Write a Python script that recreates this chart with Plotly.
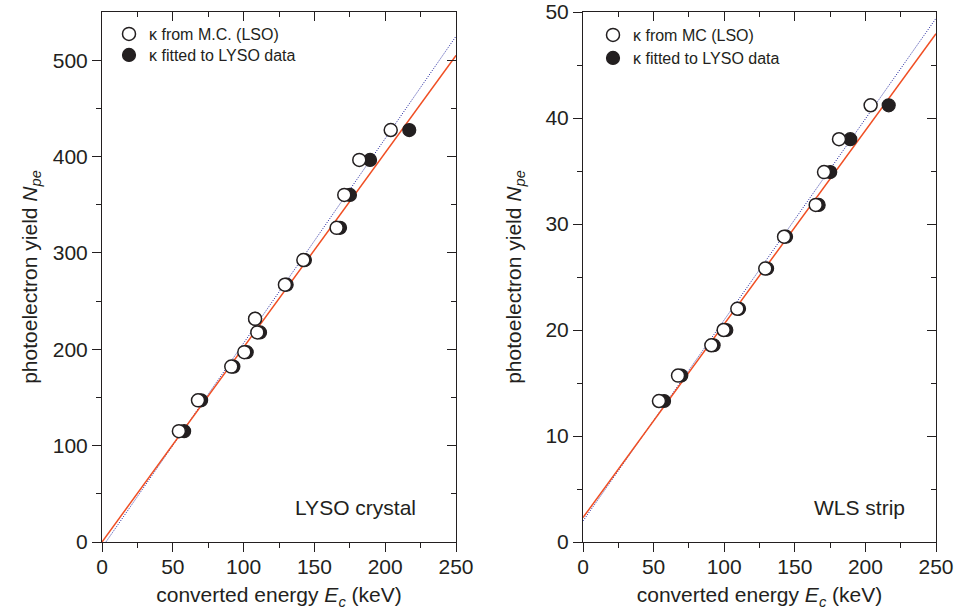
import plotly.graph_objects as go

# ---------------- data ----------------
left_mc_E = [54.3, 67.8, 91.3, 100.5, 108.1, 109.7, 129.2, 142.2, 165.7, 171.1, 181.7, 203.9]
left_fit_E = [58.0, 70.0, 92.8, 102.2, 108.1, 111.6, 130.4, 143.3, 168.1, 175.1, 189.3, 217.0]
left_N = [115, 147, 182, 197, 231.6, 217.5, 267, 292.6, 326, 360.2, 396.5, 427.5]

right_mc_E = [53.8, 67.3, 90.9, 99.6, 109.3, 129.1, 142.4, 164.8, 170.7, 181.3, 203.7]
right_fit_E = [57.4, 69.6, 92.5, 101.5, 110.5, 130.4, 143.8, 166.9, 175.1, 189.3, 216.5]
right_N = [13.3, 15.7, 18.56, 20.0, 22.0, 25.8, 28.8, 31.8, 34.9, 38.0, 41.2]

# linear fits: N = intercept + slope * E
left_mc_line = {"slope": 2.123, "intercept": -5.9}
left_fit_line = {"slope": 2.02, "intercept": 0.0}
right_mc_line = {"slope": 0.1897, "intercept": 1.98}
right_fit_line = {"slope": 0.1826, "intercept": 2.3}
line_E = [0, 250]

legend_left = ["κ from M.C. (LSO)", "κ fitted to LYSO data"]
legend_right = ["κ from MC (LSO)", "κ fitted to LYSO data"]
panel_labels = ["LYSO crystal", "WLS strip"]

# ---------------- style ----------------
INK = "#231f20"
BLUE = "#1b1f9c"
RED = "#f04e23"
FONT = "Liberation Sans, Arial, sans-serif"
W, H = 955, 616

def line_y(p):
    return [p["intercept"] + p["slope"] * e for e in line_E]

fig = go.Figure()

panels = [
    dict(xa="x", ya="y", mc=left_mc_E, fit=left_fit_E, N=left_N,
         mcl=left_mc_line, fitl=left_fit_line, legs=("legend", "legend2"), names=legend_left),
    dict(xa="x2", ya="y2", mc=right_mc_E, fit=right_fit_E, N=right_N,
         mcl=right_mc_line, fitl=right_fit_line, legs=("legend3", "legend4"), names=legend_right),
]

for p in panels:
    fig.add_trace(go.Scatter(x=line_E, y=line_y(p["mcl"]), mode="lines",
                             line=dict(color=BLUE, width=1, dash="1px,1.5px"),
                             xaxis=p["xa"], yaxis=p["ya"], showlegend=False))
    fig.add_trace(go.Scatter(x=line_E, y=line_y(p["fitl"]), mode="lines",
                             line=dict(color=RED, width=1.5),
                             xaxis=p["xa"], yaxis=p["ya"], showlegend=False))
    fig.add_trace(go.Scatter(x=p["fit"], y=p["N"], mode="markers", name=p["names"][1],
                             marker=dict(symbol="circle", size=13, color=INK,
                                         line=dict(color=INK, width=1.2)),
                             xaxis=p["xa"], yaxis=p["ya"], legend=p["legs"][1]))
    fig.add_trace(go.Scatter(x=p["mc"], y=p["N"], mode="markers", name=p["names"][0],
                             marker=dict(symbol="circle", size=13, color="white",
                                         line=dict(color=INK, width=1.5)),
                             xaxis=p["xa"], yaxis=p["ya"], legend=p["legs"][0]))

# dummy traces so that the mirror axes are drawn
fig.add_trace(go.Scatter(x=[None], y=[None], xaxis="x3", yaxis="y3", showlegend=False, hoverinfo="skip"))
fig.add_trace(go.Scatter(x=[None], y=[None], xaxis="x4", yaxis="y4", showlegend=False, hoverinfo="skip"))

ydom = [1 - 542 / H, 1 - 12 / H]
xdomL = [102 / W, 456 / W]
xdomR = [583 / W, 936 / W]

tickfont = dict(family=FONT, size=21, color=INK)
titlefont = dict(family=FONT, size=21, color=INK)

def xaxis(dom, anchor):
    return dict(domain=dom, anchor=anchor, range=[0, 250], tickvals=[0, 50, 100, 150, 200, 250],
                ticks="outside", ticklen=9, tickwidth=1, tickcolor=INK, automargin=False,
                ticklabelstandoff=-3,
                showline=True, linecolor=INK, linewidth=1, showgrid=False, zeroline=False,
                tickfont=tickfont,
                minor=dict(tickvals=[25, 75, 125, 175, 225], ticks="outside", ticklen=5,
                           tickcolor=INK, tickwidth=1, showgrid=False),
                title=dict(text="converted energy <i>E</i><sub><i>c</i></sub> (keV)",
                           font=titlefont, standoff=10))

def xmirror(over, anchor, dom):
    return dict(overlaying=over, anchor=anchor, side="top", domain=dom, range=[0, 250],
                tickvals=[0, 50, 100, 150, 200, 250], ticks="inside", ticklen=9, tickwidth=1,
                tickcolor=INK, showticklabels=False, showline=True, linecolor=INK, linewidth=1,
                showgrid=False, zeroline=False, automargin=False,
                minor=dict(tickvals=[25, 75, 125, 175, 225], ticks="inside", ticklen=5,
                           tickcolor=INK, tickwidth=1, showgrid=False))

def yaxis(anchor, rng, major, minor, standoff):
    return dict(domain=ydom, anchor=anchor, range=rng, tickvals=major,
                ticks="outside", ticklen=9, tickwidth=1, tickcolor=INK, automargin=False,
                showline=True, linecolor=INK, linewidth=1, showgrid=False, zeroline=False,
                tickfont=tickfont,
                minor=dict(tickvals=minor, ticks="outside", ticklen=5, tickcolor=INK,
                           tickwidth=1, showgrid=False),
                title=dict(text="photoelectron yield <i>N</i><sub><i>pe</i></sub>",
                           font=titlefont, standoff=standoff))

def ymirror(over, anchor, rng, major, minor):
    return dict(overlaying=over, anchor=anchor, side="right", range=rng, tickvals=major,
                ticks="inside", ticklen=9, tickwidth=1, tickcolor=INK, showticklabels=False,
                showline=True, linecolor=INK, linewidth=1, showgrid=False, zeroline=False,
                automargin=False,
                minor=dict(tickvals=minor, ticks="inside", ticklen=5, tickcolor=INK,
                           tickwidth=1, showgrid=False))

majL = [0, 100, 200, 300, 400, 500]
minL = [50, 150, 250, 350, 450]
majR = [0, 10, 20, 30, 40, 50]
minR = [5, 15, 25, 35, 45]

legfont = dict(family=FONT, size=16, color=INK)

def leg(xpx, ypx):
    return dict(x=xpx / W, y=1 - ypx / H, xanchor="left", yanchor="middle",
                bgcolor="rgba(0,0,0,0)", font=legfont, itemwidth=30, tracegroupgap=0)

fig.update_layout(
    width=W, height=H, margin=dict(l=0, r=0, t=0, b=0, autoexpand=False),
    paper_bgcolor="white", plot_bgcolor="white",
    font=dict(family=FONT, color=INK),
    xaxis=xaxis(xdomL, "y"),
    yaxis=yaxis("x", [0, 550], majL, minL, 9),
    xaxis2=xaxis(xdomR, "y2"),
    yaxis2=yaxis("x2", [0, 50], majR, minR, 18),
    xaxis3=xmirror("x", "y", xdomL),
    yaxis3=ymirror("y", "x", [0, 550], majL, minL),
    xaxis4=xmirror("x2", "y2", xdomR),
    yaxis4=ymirror("y2", "x2", [0, 50], majR, minR),
    legend=leg(109, 34),
    legend2=leg(109, 55),
    legend3=leg(593, 35),
    legend4=leg(593, 58),
    annotations=[
        dict(text=panel_labels[0], x=355 / W, y=1 - 507 / H, xref="paper", yref="paper",
             xanchor="center", yanchor="middle",
             showarrow=False, font=dict(family=FONT, size=21, color=INK)),
        dict(text=panel_labels[1], x=859 / W, y=1 - 507 / H, xref="paper", yref="paper",
             xanchor="center", yanchor="middle",
             showarrow=False, font=dict(family=FONT, size=21, color=INK)),
    ],
    showlegend=True,
)

fig.write_html("out.html")
